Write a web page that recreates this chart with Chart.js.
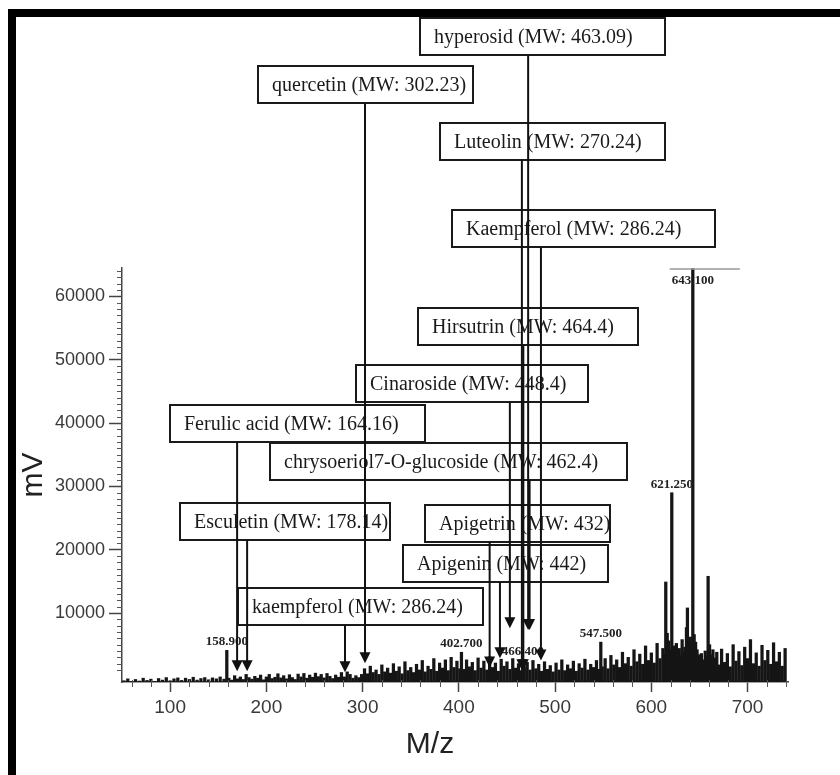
<!DOCTYPE html>
<html>
<head>
<meta charset="utf-8">
<script src="https://cdn.jsdelivr.net/npm/chart.js@4.4.1/dist/chart.umd.min.js"></script>
<style>
  body { margin: 0; background: #fff; }
  #wrap { width: 840px; height: 775px; position: relative; }
</style>
</head>
<body>
<div id="wrap"><canvas id="spectrum"></canvas></div>
<script>
// m/z positions of the sticks and their intensities (mV)
const mz = [
    52, 56, 60, 64, 68, 72, 76, 80, 84, 88, 92, 96, 100, 104, 108, 112, 116, 120, 124, 128,
    132, 136, 140, 144, 148, 152, 156, 158.9,
    161, 164, 167, 170, 173, 176, 179, 182, 185, 188, 191, 194, 197, 200, 203, 206, 209, 212,
    215, 218, 221, 224, 227, 230, 233, 236, 239, 242, 245, 248, 251, 254, 257, 260, 263, 266,
    269, 272, 275, 278, 281, 284, 287, 290, 293, 296,
    299, 302, 305, 308, 311, 314, 317, 320, 323, 326, 329, 332, 335, 338, 341, 344, 347, 350,
    353, 356, 359, 362, 365, 368, 371, 374, 377, 380, 383, 386, 389, 392, 395, 398,
    401, 402.7, 405, 408, 411, 414, 417, 420, 423, 426, 429, 432, 435, 438, 441, 444, 447, 450,
    453, 456, 459, 462, 465, 466.4, 468, 471, 474, 477, 480, 483, 486, 489, 492, 495, 498, 501,
    504, 507, 510, 513, 516, 519, 522, 525, 528, 531, 534, 537, 540, 543, 546, 547.5,
    549, 552, 555, 558, 561, 564, 567, 570, 573, 576, 579, 582, 585, 588, 591, 594, 597, 600,
    603, 606, 609, 612,
    614, 615, 616.5, 618, 619.5, 621.25, 623, 624.5, 626, 627.5, 629, 630.5, 632, 633.5, 635,
    636.5, 637.5, 639, 640.5, 642, 643.1, 644.5, 646, 647.5, 649, 650.5, 652, 654, 656, 658,
    659, 660.5, 662, 664, 666, 668,
    670, 673, 676, 679, 682, 685, 688, 691, 694, 697, 700, 703, 706, 709, 712, 715, 718, 721,
    724, 727, 730, 733, 736, 739
];
const intensity = [
    -700, -400, -800, -500, -750, -300, -650, -450, -800, -350, -600, -200, -700, -400, -250, -650, -300, -500, -150, -600,
    -350, -200, -550, -250, -400, -100, -450, 4100,
    -300, -600, 100, -400, -100, -500, 300, -200, -450, 0, -300, 200, -550, -100, 300, -350, -150, 400,
    -250, 100, -400, 250, -200, -500, 350, -100, 450, -300, 200, -150, 500, -50, 300, -250, 450, 0,
    -350, 200, -150, 600, -100, 700, 300, -300, 100, -200,
    300, 1200, 400, 1600, 600, 1000, 300, 1800, 700, 1300, 500, 2000, 800, 1500, 400, 2300, 900, 1400,
    600, 1900, 1000, 2500, 700, 1600, 1100, 2800, 800, 2100, 1300, 2600, 900, 3000, 1400, 2400,
    1200, 3800, 1100, 2600, 1500, 2200, 900, 2900, 1300, 2400, 1000, 3100, 1400, 2100, 800, 2700, 1600, 2300,
    1100, 2800, 1300, 2000, 900, 2600, 1500, 2200, 1000, 2500, 1200, 1900, 800, 2300, 1100, 1700, 700, 2100,
    1000, 2600, 900, 1800, 1200, 2400, 800, 2000, 1300, 2700, 1000, 1900, 1400, 2500, 1100, 5400,
    1500, 2800, 1200, 3300, 1800, 2600, 1400, 3800, 2000, 3000, 1600, 4200, 2300, 3500, 1900, 4800, 2500, 3700,
    2100, 5200, 2800, 4400,
    3500, 14900, 6800, 5600, 4200, 29000, 4800, 3600, 5200, 3000, 4400, 3200, 5800, 3800, 4600,
    7700, 10800, 5400, 6200, 4800, 64400, 6600, 5400, 4200, 3400, 2800, 3600, 2600, 4000, 3200,
    15800, 5000, 3400, 4200, 2900, 3800,
    1800, 4300, 2200, 3600, 1500, 5000, 2400, 3900, 1700, 4600, 2800, 5800, 2000, 3700, 1600, 4900, 2500, 4100,
    1900, 5300, 2300, 3800, 1600, 4400
];

// axis tick labels
const xTicks = [100, 200, 300, 400, 500, 600, 700];
const yTicks = [10000, 20000, 30000, 40000, 50000, 60000];

// labelled peaks
const peakLabelMz = [158.9, 402.7, 466.4, 547.5, 621.25, 643.1];
const peakLabelText = ["158.900", "402.700", "466.400", "547.500", "621.250", "643.100"];

// identified compounds: box text, arrow position (m/z) and arrow tip height (mV)
const compoundLabels = [
    "hyperosid (MW: 463.09)",
    "quercetin (MW: 302.23)",
    "Luteolin (MW: 270.24)",
    "Kaempferol (MW: 286.24)",
    "Hirsutrin (MW: 464.4)",
    "Cinaroside (MW: 448.4)",
    "Ferulic acid (MW: 164.16)",
    "chrysoeriol7-O-glucoside (MW: 462.4)",
    "Esculetin (MW: 178.14)",
    "Apigetrin (MW: 432)",
    "Apigenin (MW: 442)",
    "kaempferol (MW: 286.24)"
];
const arrowMz = [472, 302.5, 465.5, 485.3, 467, 453, 169.6, 473.5, 180, 432, 442.7, 281.7];
const arrowTip = [7300, 2050, 950, 2500, 950, 7600, 800, 7300, 800, 1400, 2850, 650];

// where the label boxes sit on the page: [left, top, width, height]
const boxLayout = [
    [420, 18, 245, 37],
    [258, 66, 215, 37],
    [440, 123, 225, 37],
    [452, 210, 263, 37],
    [418, 308, 220, 37],
    [356, 365, 232, 37],
    [170, 405, 255, 37],
    [270, 443, 357, 37],
    [180, 503, 210, 37],
    [425, 505, 185, 37],
    [403, 545, 205, 37],
    [238, 588, 245, 37]
];

const Y_MIN = -900;
const SERIF = "'Liberation Serif', 'Times New Roman', serif";
const SANS = "'Liberation Sans', Arial, sans-serif";

const overlayPlugin = {
    id: "overlay",
    beforeDraw(chart) {
        const { ctx, width, height } = chart;
        ctx.save();
        ctx.fillStyle = "#fff";
        ctx.fillRect(0, 0, width, height);
        // black frame on the top and left
        ctx.fillStyle = "#000";
        ctx.fillRect(8, 9, width - 8, 8);
        ctx.fillRect(8, 9, 8, height - 9);
        ctx.restore();
    },
    afterDraw(chart) {
        const { ctx, chartArea } = chart;
        const x = chart.scales.x;
        const y = chart.scales.y;
        ctx.save();

        // minor ticks
        ctx.strokeStyle = "#555";
        ctx.lineWidth = 1;
        ctx.beginPath();
        for (let v = 60; v <= 740; v += 20) {
            if (v % 100 === 0) continue;
            const px = Math.round(x.getPixelForValue(v)) + 0.5;
            ctx.moveTo(px, chartArea.bottom - 2);
            ctx.lineTo(px, chartArea.bottom + 5);
        }
        for (let v = 1000; v <= 64000; v += 1000) {
            if (v % 10000 === 0) continue;
            const py = Math.round(y.getPixelForValue(v)) + 0.5;
            ctx.moveTo(chartArea.left - 5, py);
            ctx.lineTo(chartArea.left, py);
        }
        ctx.stroke();

        // faint line over the clipped base peak
        ctx.strokeStyle = "#999";
        ctx.lineWidth = 1.5;
        ctx.beginPath();
        ctx.moveTo(x.getPixelForValue(619), chartArea.top + 1);
        ctx.lineTo(x.getPixelForValue(692), chartArea.top + 1);
        ctx.stroke();

        // axis titles
        ctx.fillStyle = "#222";
        ctx.font = "30px " + SANS;
        ctx.textAlign = "center";
        ctx.textBaseline = "middle";
        ctx.fillText("M/z", 430, 745);
        ctx.save();
        ctx.translate(34, 475);
        ctx.rotate(-Math.PI / 2);
        ctx.fillText("mV", 0, 0);
        ctx.restore();

        // peak labels
        ctx.font = "bold 13px " + SERIF;
        ctx.textBaseline = "bottom";
        peakLabelMz.forEach((m, i) => {
            const val = intensity[mz.indexOf(m)];
            const top = y.getPixelForValue(val);
            const py = Math.max(top - 2, chartArea.top + 19);
            ctx.fillText(peakLabelText[i], x.getPixelForValue(m), py);
        });

        // compound boxes
        ctx.font = "20px " + SERIF;
        ctx.textAlign = "left";
        ctx.textBaseline = "middle";
        ctx.lineWidth = 2;
        ctx.strokeStyle = "#1a1a1a";
        boxLayout.forEach(([bx, by, bw, bh], i) => {
            ctx.fillStyle = "#fff";
            ctx.fillRect(bx, by, bw, bh);
            ctx.strokeRect(bx, by, bw, bh);
            ctx.fillStyle = "#1a1a1a";
            ctx.fillText(compoundLabels[i], bx + 14, by + bh / 2 + 1);
        });

        // arrows from each box down to its peak
        ctx.fillStyle = "#111";
        ctx.strokeStyle = "#111";
        boxLayout.forEach(([bx, by, bw, bh], i) => {
            const ax = x.getPixelForValue(arrowMz[i]);
            const tip = y.getPixelForValue(arrowTip[i]);
            ctx.lineWidth = 2;
            ctx.beginPath();
            ctx.moveTo(ax, by + bh);
            ctx.lineTo(ax, tip - 10);
            ctx.stroke();
            ctx.beginPath();
            ctx.moveTo(ax - 5.5, tip - 11);
            ctx.lineTo(ax + 5.5, tip - 11);
            ctx.lineTo(ax, tip);
            ctx.closePath();
            ctx.fill();
        });

        ctx.restore();
    }
};

const ctx = document.getElementById("spectrum").getContext("2d");

new Chart(ctx, {
    type: "bar",
    data: {
        datasets: [{
            data: mz.map((m, i) => ({ x: m, y: intensity[i] })),
            backgroundColor: "#151515",
            barThickness: 2.6,
            base: Y_MIN,
            grouped: false,
        }],
    },
    options: {
        responsive: true,
        maintainAspectRatio: false,
        animation: false,
        layout: {
            padding: { top: 268, right: 52, left: 0, bottom: 0 },
        },
        plugins: {
            legend: { display: false },
            tooltip: { enabled: false },
        },
        scales: {
            x: {
                type: "linear",
                offset: false,
                min: 50,
                max: 742,
                afterBuildTicks: (scale) => { scale.ticks = xTicks.map((v) => ({ value: v })); },
                ticks: {
                    autoSkip: false,
                    maxRotation: 0,
                    padding: 4,
                    color: "#3a3a3a",
                    font: { family: SANS, size: 19 },
                    callback: (v) => String(v),
                },
                grid: {
                    offset: false,
                    drawOnChartArea: false,
                    tickLength: 10,
                    tickColor: "#444",
                    tickWidth: 1.5,
                },
                border: { color: "#444", width: 1.5 },
                afterFit: (scale) => { scale.height = 93; },
            },
            y: {
                min: Y_MIN,
                max: 64500,
                afterBuildTicks: (scale) => { scale.ticks = yTicks.map((v) => ({ value: v })); },
                ticks: {
                    autoSkip: false,
                    padding: 4,
                    color: "#3a3a3a",
                    font: { family: SANS, size: 18 },
                    callback: (v) => String(v),
                },
                grid: {
                    drawOnChartArea: false,
                    tickLength: 13,
                    tickWidth: 1.5,
                    tickColor: "#444",
                },
                border: { color: "#444", width: 1.5 },
                afterFit: (scale) => { scale.width = 122; },
            },
        },
    },
    plugins: [overlayPlugin],
});
</script>
</body>
</html>
